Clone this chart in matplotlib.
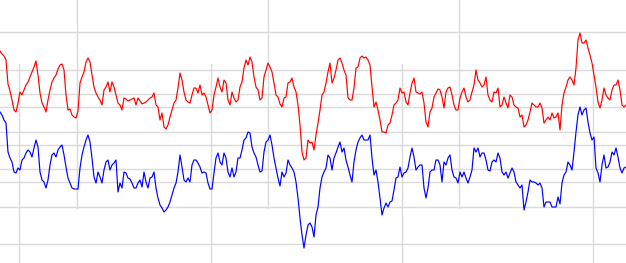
import numpy as np
import matplotlib.pyplot as plt

# two overlapping panels, one for each series
red = [152.4, 151.2, 150.4, 148.8, 139.2, 136.4, 132.8, 128.8, 128.0, 131.6,
       136.0, 134.8, 136.8, 138.8, 140.0, 142.0, 144.0, 146.0, 148.4, 142.8,
       135.6, 131.6, 130.0, 128.0, 132.8, 136.8, 140.0, 141.6, 142.8, 145.2,
       146.8, 147.2, 144.8, 134.8, 128.8,
       129.2, 126.8, 126.0, 125.6, 128.4, 139.6, 142.0, 144.0, 148.0, 149.6,
       148.0, 142.8, 138.0, 135.6, 134.0, 132.8, 130.8, 136.8, 138.0, 140.0,
       136.0, 140.0, 138.0, 134.8, 131.6, 130.8, 128.8, 133.6, 133.2, 132.4,
       132.8, 133.2, 133.6, 130.8, 133.6,
       132.4, 131.2, 131.6, 132.0, 132.8, 133.6, 134.0, 135.6, 130.8, 130.0,
       124.8, 127.6, 122.0, 121.2, 122.8, 126.0, 128.8, 131.6, 132.8, 137.6,
       143.6, 140.8, 136.0, 132.8, 132.0, 131.6, 134.8, 137.6, 137.6, 135.6,
       138.8, 134.8, 135.6, 134.0, 130.8,
       127.6, 128.8, 134.8, 138.0, 141.6, 138.0, 136.0, 140.8, 139.6, 132.8,
       130.8, 136.0, 133.6, 132.0, 132.8, 138.0, 140.0, 145.6, 148.8, 146.8,
       150.0, 148.0, 142.0, 138.0, 136.8, 132.8, 133.6, 142.0, 144.8, 147.6,
       146.0, 144.0, 139.6, 134.8, 134.0,
       131.2, 130.0, 133.6, 134.0, 139.6, 140.0, 141.6, 138.0, 136.0, 130.8,
       122.8, 112.0, 108.8, 109.6, 116.8, 115.6, 116.0, 112.8, 118.8, 123.6,
       128.8, 134.8, 136.0, 139.6, 144.0, 147.6, 139.6, 141.6, 144.8, 148.8,
       149.6, 147.6, 144.8, 142.8, 133.6,
       132.8, 132.8, 137.6, 145.6, 146.0, 149.6, 150.4, 149.6, 150.0, 148.8,
       146.8, 138.0, 130.0, 132.0, 128.8, 124.8, 120.0, 120.0, 119.6, 122.8,
       123.6, 126.8, 130.8, 131.6, 132.8, 137.6, 135.6, 136.0, 132.0, 130.8,
       135.6, 139.6, 141.6, 136.0, 135.6,
       135.2, 136.0, 131.6, 124.0, 122.0, 128.0, 129.6, 134.0, 135.6, 137.2,
       136.8, 134.0, 129.6, 136.0, 137.6, 138.0, 134.8, 130.8, 128.8, 128.8,
       133.6, 136.0, 137.6, 134.0, 132.0, 132.8, 136.0, 138.8, 144.8, 140.8,
       139.6, 138.0, 138.8, 142.0, 134.8,
       132.8, 132.0, 136.0, 135.6, 137.6, 130.0, 130.8, 134.0, 131.6, 129.6,
       134.8, 134.0, 130.8, 130.0, 129.6, 126.0, 126.8, 122.0, 122.8, 124.8,
       128.0, 131.6, 130.8, 130.0, 130.0, 131.6, 129.6, 123.6, 124.8, 126.0,
       124.8, 127.6, 125.6, 126.0, 127.6,
       120.8, 130.8, 135.6, 138.0, 140.8, 142.0, 140.8, 138.8, 145.6, 156.8,
       159.6, 155.6, 155.6, 156.8, 153.6, 150.8, 147.6, 142.8, 138.0, 132.0,
       129.6, 132.8, 137.6, 134.8, 133.6, 132.8, 136.8, 138.8, 138.8, 140.8,
       136.8, 130.8, 130.0, 130.8]

blue = [152.8, 151.6, 149.6, 148.4, 136.8, 134.4, 132.8, 128.8, 128.4, 130.4,
        129.6, 133.6, 134.4, 136.4, 137.6, 136.8, 134.8, 138.4, 141.6, 138.8,
        128.8, 125.6, 124.8, 122.4, 125.6, 131.6, 135.6, 136.4, 134.8, 137.6,
        138.8, 139.6, 135.6, 130.8, 126.4,
        124.4, 122.4, 122.0, 122.0, 122.0, 130.4, 135.6, 138.8, 141.6, 143.6,
        140.8, 134.4, 126.8, 124.4, 128.8, 126.8, 124.4, 129.6, 132.8, 133.6,
        129.6, 131.6, 132.4, 133.6, 120.8, 124.4, 122.4, 128.8, 128.4, 126.4,
        126.0, 124.4, 122.4, 122.4, 124.4,
        125.6, 122.8, 128.8, 124.8, 122.4, 126.4, 126.8, 128.8, 122.4, 118.4,
        115.6, 114.4, 112.8, 113.6, 114.8, 116.8, 119.6, 122.4, 124.4, 128.8,
        135.6, 130.8, 125.6, 124.8, 126.4, 124.8, 131.6, 133.6, 133.6, 132.4,
        130.8, 128.4, 128.8, 128.4, 124.4,
        122.0, 122.0, 128.4, 134.4, 136.4, 132.8, 131.6, 136.4, 134.4, 128.8,
        126.8, 130.4, 126.8, 128.8, 134.4, 134.4, 137.6, 141.6, 142.4, 144.8,
        144.4, 138.8, 136.4, 134.8, 131.6, 128.8, 129.2, 136.8, 140.8, 141.6,
        143.6, 139.6, 134.4, 130.4, 126.4,
        123.2, 128.8, 126.8, 128.4, 133.6, 131.6, 130.4, 128.8, 124.8, 118.4,
        110.4, 103.6, 98.4, 103.6, 107.6, 108.4, 106.8, 102.8, 111.6, 114.8,
        122.4, 126.8, 128.8, 130.4, 135.6, 134.4, 129.6, 134.4, 136.4, 138.8,
        140.8, 136.8, 138.4, 133.6, 130.8,
        127.6, 124.8, 132.8, 137.6, 140.8, 142.4, 143.6, 141.6, 141.6, 141.6,
        143.6, 134.4, 127.6, 129.6, 124.8, 118.4, 111.6, 114.4, 116.4, 114.8,
        116.8, 117.2, 121.6, 126.4, 126.8, 130.8, 126.8, 128.4, 128.8, 130.4,
        134.8, 138.4, 134.8, 129.6, 130.8,
        131.6, 131.6, 122.4, 118.4, 122.4, 128.8, 129.6, 129.6, 133.6, 133.6,
        131.6, 124.8, 132.8, 131.6, 134.4, 135.6, 129.6, 126.8, 126.4, 124.4,
        128.8, 126.8, 128.8, 126.4, 124.4, 126.8, 129.6, 138.4, 136.8, 138.4,
        134.8, 136.4, 136.4, 133.6, 129.6,
        129.2, 132.8, 133.6, 132.8, 136.4, 134.4, 128.8, 127.6, 128.8, 126.4,
        128.4, 130.4, 128.8, 124.8, 123.6, 122.4, 123.6, 113.6, 116.8, 120.8,
        125.6, 124.8, 124.8, 124.4, 123.6, 124.4, 122.4, 114.8, 116.8, 116.8,
        116.8, 114.8, 114.8, 114.8, 118.8,
        116.0, 124.4, 127.6, 128.8, 132.8, 131.6, 129.6, 136.8, 144.8, 151.6,
        154.8, 151.6, 153.6, 154.4, 148.8, 144.4, 141.6, 142.8, 130.4, 128.4,
        124.8, 131.6, 135.6, 130.4, 130.8, 132.8, 136.8, 135.6, 138.4, 134.8,
        130.4, 128.4, 130.4, 130.8]

y_ticks = [100, 115, 130, 145, 160]

x = np.arange(len(red))

fig = plt.figure(figsize=(6.26, 2.63), dpi=100)
rect_red = [0, 54 / 263, 1, 209 / 263]
rect_blue = [0, 0, 1, 199 / 263]
ylim_red = (89.2, 172.8)
ylim_blue = (92.4, 172.0)

grid_red = fig.add_axes(rect_red)
grid_blue = fig.add_axes(rect_blue)
line_red = fig.add_axes(rect_red)
line_blue = fig.add_axes(rect_blue)

line_red.plot(x, red, color='#ff0000', lw=0.85)
line_blue.plot(x, blue, color='#0000ff', lw=0.85)

for ax, lim in [(grid_red, ylim_red), (line_red, ylim_red),
                (grid_blue, ylim_blue), (line_blue, ylim_blue)]:
    ax.set_xlim(0, len(red) - 1)
    ax.set_ylim(*lim)
    ax.patch.set_alpha(0)

for ax, xstart in [(grid_red, 38.35), (grid_blue, 9.65)]:
    ax.set_xticks(np.arange(xstart, len(red), 95.6))
    ax.set_yticks(y_ticks)
    ax.grid(True, color='#dadada', lw=1)
    ax.tick_params(length=0, labelbottom=False, labelleft=False)
    for s in ax.spines.values():
        s.set_visible(False)

line_red.axis('off')
line_blue.axis('off')

plt.savefig("out.png", dpi=100)
